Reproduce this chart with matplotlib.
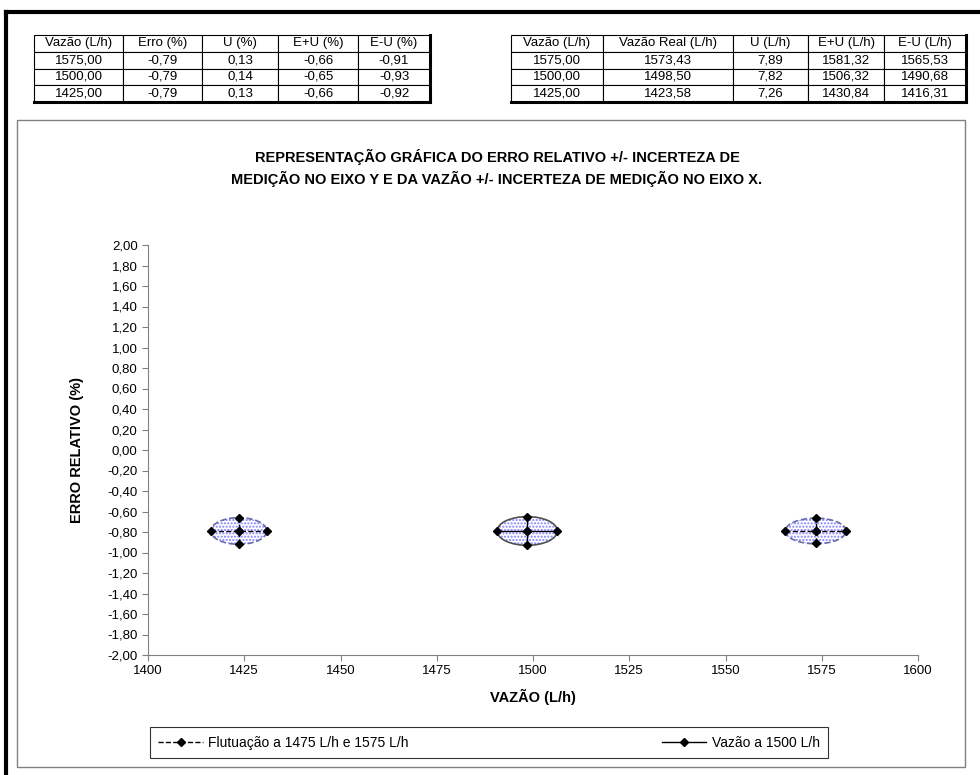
import matplotlib
matplotlib.use('Agg')
import matplotlib.pyplot as plt
from matplotlib.patches import Ellipse, Rectangle
from matplotlib.ticker import FuncFormatter
from matplotlib.lines import Line2D

plt.rcParams['font.family'] = ['Liberation Sans', 'DejaVu Sans']

# dados da planilha
vazao_nominal = [1575.00, 1500.00, 1425.00]
erro = [-0.79, -0.79, -0.79]
u_pct = [0.13, 0.14, 0.13]
e_mais_u = [-0.66, -0.65, -0.66]
e_menos_u = [-0.91, -0.93, -0.92]

vazao_real = [1573.43, 1498.50, 1423.58]
u_lh = [7.89, 7.82, 7.26]
vr_mais_u = [1581.32, 1506.32, 1430.84]
vr_menos_u = [1565.53, 1490.68, 1416.31]

cols1 = ['Vazão (L/h)', 'Erro (%)', 'U (%)', 'E+U (%)', 'E-U (%)']
cols2 = ['Vazão (L/h)', 'Vazão Real (L/h)', 'U (L/h)', 'E+U (L/h)', 'E-U (L/h)']

W, H = 980, 775


def br(v):
    return f'{v:.2f}'.replace('.', ',')


def fx(px):
    return px / W


def fy(py):
    return 1 - py / H


fig = plt.figure(figsize=(9.8, 7.75), dpi=100)

# moldura externa (só topo e esquerda aparecem) e area do grafico
fig.add_artist(Line2D([fx(6), 1], [fy(12), fy(12)], color='black', lw=3, transform=fig.transFigure))
fig.add_artist(Line2D([fx(6), fx(6)], [0, fy(12)], color='black', lw=3, transform=fig.transFigure))
fig.patches.append(Rectangle((fx(17), fy(767)), fx(965) - fx(17), fy(120) - fy(767),
                             transform=fig.transFigure, fill=False,
                             edgecolor='#808080', linewidth=1))


def tabela(x0, x1, bordas, cab, linhas):
    tax = fig.add_axes([fx(x0), fy(102), fx(x1) - fx(x0), fy(35) - fy(102)])
    tax.axis('off')
    larg = [(bordas[i + 1] - bordas[i]) / (x1 - x0) for i in range(len(bordas) - 1)]
    t = tax.table(cellText=linhas, colLabels=cab, colWidths=larg,
                  bbox=[0, 0, 1, 1], cellLoc='center')
    t.auto_set_font_size(False)
    for (r, c), cell in t.get_celld().items():
        cell.set_fontsize(9.5)
        cell.set_linewidth(0.8)
        cell.set_edgecolor('black')
    # sombra à direita e embaixo
    tax.plot([1, 1], [0, 1], color='black', lw=2.2, transform=tax.transAxes, clip_on=False)
    tax.plot([0, 1], [0, 0], color='black', lw=2.2, transform=tax.transAxes, clip_on=False)


linhas1 = [[br(vazao_nominal[i]), br(erro[i]), br(u_pct[i]), br(e_mais_u[i]), br(e_menos_u[i])]
           for i in range(3)]
linhas2 = [[br(vazao_nominal[i]), br(vazao_real[i]), br(u_lh[i]), br(vr_mais_u[i]), br(vr_menos_u[i])]
           for i in range(3)]
tabela(34, 430, [34, 123, 202, 278, 358, 430], cols1, linhas1)
tabela(511, 966, [511, 603, 733, 808, 884, 966], cols2, linhas2)

# grafico
ax = fig.add_axes([fx(148), fy(655), fx(918) - fx(148), fy(245) - fy(655)])
ax.set_xlim(1400, 1600)
ax.set_ylim(-2, 2)
ax.set_xticks([1400, 1425, 1450, 1475, 1500, 1525, 1550, 1575, 1600])
ax.set_yticks([round(-2 + 0.2 * i, 1) for i in range(21)])
ax.yaxis.set_major_formatter(FuncFormatter(lambda v, p: br(v)))
for s in ['top', 'right']:
    ax.spines[s].set_visible(False)
for s in ['left', 'bottom']:
    ax.spines[s].set_color('#808080')
ax.tick_params(axis='both', labelsize=9.5, colors='#808080', labelcolor='black',
               length=4, direction='out')

for i in range(3):
    central = vazao_nominal[i] == 1500.00
    ls = '-' if central else '--'
    borda = '#505050' if central else '#6a6aa8'
    larg = vr_mais_u[i] - vr_menos_u[i]
    alt = e_mais_u[i] - e_menos_u[i]
    fundo = Ellipse((vazao_real[i], erro[i]), larg, alt, facecolor='white',
                    edgecolor='#8080ff', hatch='.....', linewidth=0, zorder=2)
    ax.add_patch(fundo)
    ax.add_patch(Ellipse((vazao_real[i], erro[i]), larg, alt, fill=False,
                         edgecolor=borda, linestyle=ls, linewidth=1.2, zorder=3))
    ax.plot([vr_menos_u[i], vazao_real[i], vr_mais_u[i]], [erro[i]] * 3,
            color='black', ls=ls, lw=1, marker='D', ms=4.5, zorder=4)
    ax.plot([vazao_real[i]] * 3, [e_menos_u[i], erro[i], e_mais_u[i]],
            color='black', ls=ls, lw=1, marker='D', ms=4.5, zorder=4)

ax.set_xlabel('VAZÃO (L/h)', fontsize=10.5, fontweight='bold', labelpad=8)
ax.set_ylabel('ERRO RELATIVO (%)', fontsize=10.5, fontweight='bold', labelpad=17)

fig.text(fx(497), fy(168),
         'REPRESENTAÇÃO GRÁFICA DO ERRO RELATIVO +/- INCERTEZA DE\n'
         'MEDIÇÃO NO EIXO Y E DA VAZÃO +/- INCERTEZA DE MEDIÇÃO NO EIXO X.',
         ha='center', va='center', fontsize=10.5, fontweight='bold', linespacing=1.45)

h1 = Line2D([], [], color='black', ls='--', lw=1, marker='D', ms=4.5)
h2 = Line2D([], [], color='black', ls='-', lw=1, marker='D', ms=4.5)
leg = fig.legend([h1, h2], ['Flutuação a 1475 L/h e 1575 L/h', 'Vazão a 1500 L/h'],
                 loc='lower left', bbox_to_anchor=(fx(150), fy(758)),
                 ncol=2, fontsize=10, frameon=True, fancybox=False,
                 borderaxespad=0, handlelength=3.2, handletextpad=0.4,
                 columnspacing=18.2, borderpad=0.6)
leg.get_frame().set_edgecolor('black')
leg.get_frame().set_linewidth(0.8)

fig.savefig('out.png', dpi=100)
